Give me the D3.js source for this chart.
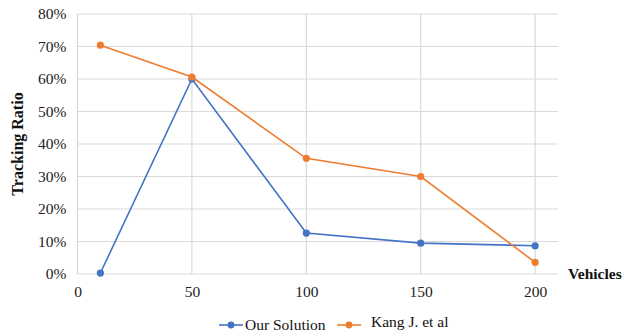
<!DOCTYPE html>
<html>
<head>
<meta charset="utf-8">
<script src="https://cdn.jsdelivr.net/npm/d3@7"></script>
<style>
  html, body { margin: 0; padding: 0; background: #fff; }
  svg { display: block; }
</style>
</head>
<body>
<svg id="chart" width="635" height="335"></svg>
<script>
// Vehicle counts on the x axis
const vehicles = [10, 50, 100, 150, 200];
// Tracking ratio (%) per approach
const ourSolution = [0.3, 60, 12.6, 9.5, 8.7];
const kangEtAl = [70.4, 60.6, 35.6, 30, 3.6];
// Axis ticks
const xTicks = [0, 50, 100, 150, 200];
const yTicks = [0, 10, 20, 30, 40, 50, 60, 70, 80];
const seriesNames = ["Our Solution", "Kang J. et al"];
const seriesColors = ["#4472C4", "#ED7D31"];

const FONT = "Liberation Serif";
const svg = d3.select("#chart");
const margin = { left: 77.5, right: 77, top: 14, bottom: 61 };
const W = 635, H = 335;

const x = d3.scaleLinear().domain([0, 210]).range([margin.left, W - margin.right]);
const y = d3.scaleLinear().domain([0, 80]).range([H - margin.bottom, margin.top]);

// Gridlines
const grid = svg.append("g").attr("stroke", "#d9d9d9").attr("stroke-width", 1.2);
grid.selectAll("line.h").data(yTicks).join("line")
  .attr("x1", x(0)).attr("x2", x(210))
  .attr("y1", d => y(d)).attr("y2", d => y(d));
grid.selectAll("line.v").data(xTicks).join("line")
  .attr("x1", d => x(d)).attr("x2", d => x(d))
  .attr("y1", y(0)).attr("y2", y(80));

// Axes (text only, lines come from the grid)
const yAxis = svg.append("g")
  .attr("transform", `translate(${x(0)},0)`)
  .call(d3.axisLeft(y).tickValues(yTicks).tickFormat(d => d + "%").tickSize(0).tickPadding(11));
yAxis.attr("font-family", FONT).attr("font-size", 15.5);
yAxis.select(".domain").remove();
yAxis.selectAll("text").attr("font-family", FONT).attr("fill", "#222");

const xAxis = svg.append("g")
  .attr("transform", `translate(0,${y(0)})`)
  .call(d3.axisBottom(x).tickValues(xTicks).tickSize(0).tickPadding(12));
xAxis.attr("font-family", FONT).attr("font-size", 15.5);
xAxis.select(".domain").remove();
xAxis.selectAll("text").attr("font-family", FONT).attr("fill", "#222");

// Axis titles
svg.append("text")
  .attr("transform", `translate(23,${(y(0) + y(80)) / 2}) rotate(-90)`)
  .attr("text-anchor", "middle").attr("font-family", FONT)
  .attr("font-size", 16).attr("font-weight", "bold").attr("fill", "#111")
  .text("Tracking Ratio");
svg.append("text")
  .attr("x", 568).attr("y", y(0) + 5).attr("font-family", FONT)
  .attr("font-size", 15.5).attr("font-weight", "bold").attr("fill", "#111")
  .text("Vehicles");

// Series lines and markers
const allSeries = [ourSolution, kangEtAl];
const line = d3.line().x((d, i) => x(vehicles[i])).y(d => y(d));
allSeries.forEach((vals, s) => {
  const g = svg.append("g");
  g.append("path").datum(vals)
    .attr("d", line).attr("fill", "none")
    .attr("stroke", seriesColors[s]).attr("stroke-width", 1.6);
  g.selectAll("circle").data(vals).join("circle")
    .attr("cx", (d, i) => x(vehicles[i])).attr("cy", d => y(d))
    .attr("r", 3.6).attr("fill", seriesColors[s]);
});

// Legend
const legendItems = [
  { x0: 219, tx: 245, ty: 330 },
  { x0: 337, tx: 371, ty: 327 }
];
legendItems.forEach((p, s) => {
  const g = svg.append("g");
  g.append("line").attr("x1", p.x0).attr("x2", p.x0 + 24)
    .attr("y1", 325).attr("y2", 325)
    .attr("stroke", seriesColors[s]).attr("stroke-width", 1.6);
  g.append("circle").attr("cx", p.x0 + 12).attr("cy", 325).attr("r", 3.4).attr("fill", seriesColors[s]);
  g.append("text").attr("x", p.tx).attr("y", p.ty).attr("font-family", FONT)
    .attr("font-size", 15.5).attr("fill", "#111")
    .text(seriesNames[s]);
});
</script>
</body>
</html>
